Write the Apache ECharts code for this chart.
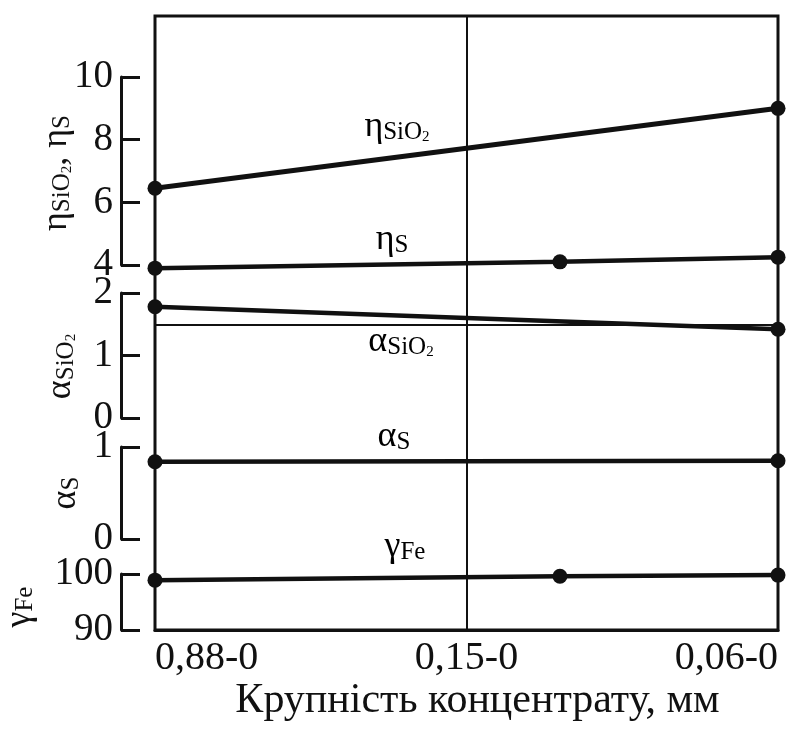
<!DOCTYPE html>
<html>
<head>
<meta charset="utf-8">
<script src="https://cdn.jsdelivr.net/npm/echarts@6/dist/echarts.min.js"></script>
<style>
  html, body { margin: 0; padding: 0; background: #fff; }
  #chart { width: 793px; height: 732px; }
</style>
</head>
<body>
<div id="chart"></div>
<script>
// Size classes of the concentrate (positions along the shared x axis)
const sizeClasses = ['0,88-0', '0,15-0', '0,06-0'];

// Series values: [x position, value]
const etaSiO2   = [[0, 6.45], [2, 9.0]];
const etaS      = [[0, 3.9], [1.3, 4.1], [2, 4.25]];
const alphaSiO2 = [[0, 1.78], [2, 1.42]];
const alphaSiO2Ref = [1.5];
const alphaS    = [[0, 0.84], [2, 0.85]];
const gammaFe   = [[0, 98.9], [1.3, 99.6], [2, 99.8]];

// Tick ranges of the stacked y axes: [min, max, interval]
const etaTicks     = [4, 10, 2];
const alphaSiTicks = [0, 2, 1];
const alphaSTicks  = [0, 1, 1];
const gammaTicks   = [90, 100, 10];

const SERIF = '"Liberation Serif", "Times New Roman", serif';
const INK = '#111';

function richSub(big, sub, tiny) {
  return {
    g: { fontFamily: SERIF, fontSize: big, color: INK, lineHeight: 40, verticalAlign: 'bottom' },
    s: { fontFamily: SERIF, fontSize: sub, color: INK, lineHeight: 18, verticalAlign: 'bottom' },
    t: { fontFamily: SERIF, fontSize: tiny, color: INK, lineHeight: 11, verticalAlign: 'bottom' }
  };
}

const panels = [
  { top: 77,  height: 188, ticks: etaTicks,     name: '{g|η}{s|SiO}{t|2}{g|, η}{s|S}', gap: 46, shift: 4 },
  { top: 293, height: 125, ticks: alphaSiTicks, name: '{g|α}{s|SiO}{t|2}', gap: 42, shift: 22 },
  { top: 447, height: 92,  ticks: alphaSTicks,  name: '{g|α}{s|S}', gap: 37, shift: 0 },
  { top: 574, height: 56,  ticks: gammaTicks,   name: '{g|γ}{s|Fe}', gap: 83, shift: 10 }
];

const grids = [{ left: 155, right: 15, top: 16, bottom: 102, show: true,
  borderColor: INK, borderWidth: 3, backgroundColor: 'transparent', outerBoundsMode: 'none' }];
const xAxes = [{
  gridIndex: 0, type: 'value', min: 0, max: 2, interval: 1,
  axisLine: { show: true, lineStyle: { color: INK, width: 3 } },
  axisTick: { show: false },
  splitLine: { show: true, lineStyle: { color: INK, width: 2 } },
  axisLabel: {
    show: true, margin: 8, color: INK, fontFamily: SERIF, fontSize: 40,
    alignMinLabel: 'left', alignMaxLabel: 'right',
    formatter: v => sizeClasses[Math.round(v)]
  },
  name: 'Крупність концентрату, мм', nameLocation: 'middle', nameGap: 50,
  nameMoveOverlap: false,
  nameTextStyle: { color: INK, fontFamily: SERIF, fontSize: 42, padding: [0, 0, 0, 22] }
}];
const yAxes = [{ gridIndex: 0, type: 'value', show: false, min: 0, max: 1 }];

panels.forEach((p, i) => {
  const gi = i + 1;
  grids.push({ left: 155, right: 15, top: p.top, height: p.height, outerBoundsMode: 'none' });
  xAxes.push({ gridIndex: gi, type: 'value', min: 0, max: 2, show: false });
  yAxes.push({
    gridIndex: gi, type: 'value', position: 'left', offset: 34,
    min: p.ticks[0], max: p.ticks[1], interval: p.ticks[2],
    axisLine: { show: true, onZero: false, lineStyle: { color: INK, width: 3 } },
    axisTick: { show: true, inside: true, length: 19, lineStyle: { color: INK, width: 3 } },
    axisLabel: { show: true, margin: 8, color: INK, fontFamily: SERIF, fontSize: 39 },
    splitLine: { show: false },
    name: p.name, nameLocation: 'middle', nameRotate: 90, nameGap: p.gap,
    nameMoveOverlap: false,
    nameTextStyle: { rich: richSub(36, 25, 15), padding: [0, p.shift, 0, 0] }
  });
});

function lineSeries(data, gi, width) {
  return {
    type: 'line', xAxisIndex: gi, yAxisIndex: gi, data: data, clip: false,
    symbol: 'circle', symbolSize: 15, showAllSymbol: true,
    itemStyle: { color: INK },
    lineStyle: { color: INK, width: width },
    animation: false, z: 5
  };
}

const series = [
  lineSeries(etaSiO2, 1, 5),
  lineSeries(etaS, 1, 4.5),
  Object.assign(lineSeries(alphaSiO2, 2, 4.5), {
    markLine: {
      symbol: 'none', silent: true, animation: false, label: { show: false },
      lineStyle: { color: INK, width: 2, type: 'solid' },
      data: alphaSiO2Ref.map(v => ({ yAxis: v }))
    }
  }),
  lineSeries(alphaS, 3, 4.5),
  lineSeries(gammaFe, 4, 4.5)
];

function curveLabel(x, y, text) {
  return {
    type: 'text', x: x, y: y, z: 10,
    style: { text: text, rich: richSub(36, 25, 15), align: 'center', verticalAlign: 'middle' }
  };
}

const chart = echarts.init(document.getElementById('chart'), null, { renderer: 'canvas' });
chart.setOption({
  animation: false,
  backgroundColor: '#fff',
  grid: grids,
  xAxis: xAxes,
  yAxis: yAxes,
  series: series,
  graphic: [
    curveLabel(397, 125, '{g|η}{s|SiO}{t|2}'),
    curveLabel(392, 238, '{g|η}{s|S}'),
    curveLabel(401, 340, '{g|α}{s|SiO}{t|2}'),
    curveLabel(394, 435, '{g|α}{s|S}'),
    curveLabel(405, 545, '{g|γ}{s|Fe}')
  ]
});
</script>
</body>
</html>
